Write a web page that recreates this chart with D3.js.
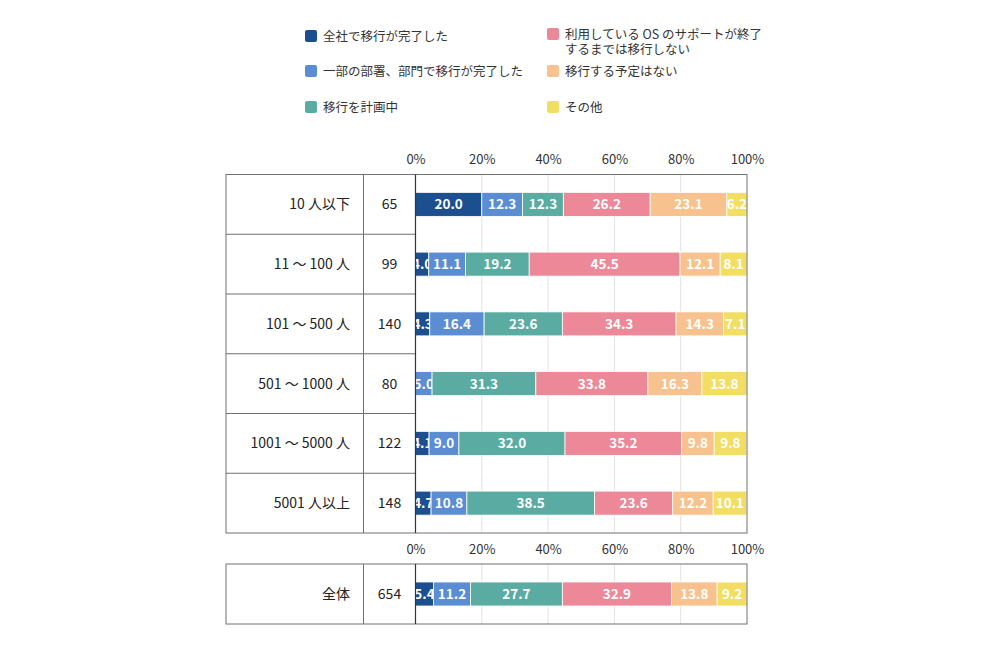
<!DOCTYPE html>
<html><head><meta charset="utf-8">
<script src="https://cdn.jsdelivr.net/npm/d3@7/dist/d3.min.js"></script>
<style>body{margin:0;background:#fff;} svg{display:block;font-family:"Noto Sans CJK JP","Noto Sans",sans-serif;}</style>
</head><body><svg id="c" width="1000" height="645"></svg>
<script>
const categories = ["10 人以下","11 ～ 100 人","101 ～ 500 人","501 ～ 1000 人","1001 ～ 5000 人","5001 人以上"];
const counts = [65, 99, 140, 80, 122, 148];
const seriesNames = ["全社で移行が完了した","一部の部署、部門で移行が完了した","移行を計画中","利用している OS のサポートが終了\nするまでは移行しない","移行する予定はない","その他"];
const seriesColors = ["#1c4f8f","#5b8dd3","#5aaca2","#ec8898","#f7c28e","#f2de63"];
const s1 = [20.0, 4.0, 4.3, 0, 4.1, 4.7];
const s2 = [12.3, 11.1, 16.4, 5.0, 9.0, 10.8];
const s3 = [12.3, 19.2, 23.6, 31.3, 32.0, 38.5];
const s4 = [26.2, 45.5, 34.3, 33.8, 35.2, 23.6];
const s5 = [23.1, 12.1, 14.3, 16.3, 9.8, 12.2];
const s6 = [6.2, 8.1, 7.1, 13.8, 9.8, 10.1];
const totalLabel = "全体";
const totalCount = 654;
const totalValues = [5.4, 11.2, 27.7, 32.9, 13.8, 9.2];
const tickValues = [0, 20, 40, 60, 80, 100];

const svg = d3.select("#c");
const tableLeft = 226, colDiv = 363.5, x0 = 415.5, x1 = 747;
const x = d3.scaleLinear().domain([0,100]).range([x0, x1]).clamp(true);
const lineColor = "#707070";

const rowsData = categories.map((c,i)=>({label:c, n:counts[i], vals:[s1[i],s2[i],s3[i],s4[i],s5[i],s6[i]]}));
const totalData = [{label:totalLabel, n:totalCount, vals:totalValues}];

// legend
const legendItems = [
  {i:0, x:305, y:36}, {i:1, x:305, y:71}, {i:2, x:305, y:107},
  {i:3, x:547, y:34}, {i:4, x:547, y:71}, {i:5, x:547, y:107}
];
const lg = svg.append("g");
legendItems.forEach(d=>{
  lg.append("rect").attr("x",d.x).attr("y",d.y-6).attr("width",12).attr("height",12).attr("rx",2)
    .attr("fill",seriesColors[d.i]);
  const lines = seriesNames[d.i].split("\n");
  lines.forEach((ln,k)=>lg.append("text").attr("x",d.x+18).attr("y",d.y+4.5+k*15.5)
    .attr("font-size",12.5).attr("fill","#333").text(ln));
});

function block(data, top, rowH, axisY){
  const g = svg.append("g");
  const bottom = top + rowH*data.length;
  const y = d3.scaleBand().domain(d3.range(data.length)).range([top,bottom]);
  const ax = d3.axisTop(x).tickValues(tickValues).tickFormat(d=>d+"%").tickSize(0);
  const axg = g.append("g").attr("transform",`translate(0,${axisY})`).call(ax);
  axg.select(".domain").remove();
  axg.selectAll("text").attr("font-size",13).attr("fill","#333").attr("font-family",'"Noto Sans CJK JP",sans-serif');
  g.append("g").selectAll("line").data(tickValues.slice(1,-1)).join("line")
    .attr("x1",d=>x(d)).attr("x2",d=>x(d)).attr("y1",top).attr("y2",bottom)
    .attr("stroke","#e2e2e2").attr("stroke-width",1);
  data.forEach((row,ri)=>{
    let acc = 0;
    const cy = y(ri) + y.bandwidth()/2;
    const bh = 24;
    row.vals.forEach((v,si)=>{
      const a = acc, b = acc + v; acc = b;
      if(v<=0) return;
      g.append("rect").attr("x",x(a)).attr("y",cy-bh/2).attr("width",Math.max(0,x(b)-x(a))).attr("height",bh)
        .attr("fill",seriesColors[si]).attr("stroke","#fff").attr("stroke-width",0.8);
      g.append("text").attr("x",(x(a)+x(b))/2).attr("y",cy+5).attr("text-anchor","middle")
        .attr("font-size",13.5).attr("font-weight","bold").attr("fill","#fff").text(v.toFixed(1));
    });
    g.append("text").attr("x",350).attr("y",cy+5).attr("text-anchor","end").attr("font-size",14).attr("fill","#222").text(row.label);
    g.append("text").attr("x",(colDiv+x0)/2).attr("y",cy+5).attr("text-anchor","middle").attr("font-size",14).attr("fill","#222").text(row.n);
  });
  g.append("rect").attr("x",tableLeft).attr("y",top).attr("width",x1-tableLeft).attr("height",bottom-top)
    .attr("fill","none").attr("stroke",lineColor).attr("stroke-width",1);
  g.append("line").attr("x1",colDiv).attr("x2",colDiv).attr("y1",top).attr("y2",bottom).attr("stroke",lineColor);
  g.selectAll(".hl").data(d3.range(1,data.length)).join("line")
    .attr("x1",tableLeft).attr("x2",x0).attr("y1",d=>y(d)).attr("y2",d=>y(d)).attr("stroke",lineColor);
  g.append("line").attr("x1",x0).attr("x2",x0).attr("y1",top).attr("y2",bottom).attr("stroke","#333").attr("stroke-width",1.2);
}
block(rowsData, 174.5, 59.75, 167);
block(totalData, 564, 60, 557);
</script></body></html>
